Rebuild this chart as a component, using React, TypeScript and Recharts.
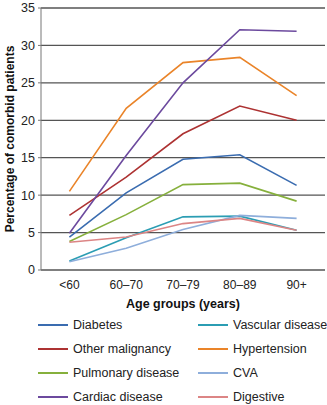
import React from 'react';
import { LineChart, Line, XAxis, YAxis, CartesianGrid } from 'recharts';

const categories = ['<60', '60–70', '70–79', '80–89', '90+'];
const diabetes = [4.4, 10.3, 14.8, 15.4, 11.3];
const vascular = [1.2, 4.3, 7.1, 7.2, 5.3];
const otherMalignancy = [7.3, 12.4, 18.2, 21.9, 20.0];
const hypertension = [10.5, 21.6, 27.7, 28.4, 23.3];
const pulmonary = [3.8, 7.4, 11.4, 11.6, 9.2];
const cva = [1.1, 2.9, 5.4, 7.3, 6.9];
const cardiac = [4.9, 15.3, 25.0, 32.1, 31.9];
const digestive = [3.7, 4.4, 6.2, 6.9, 5.3];
const yTicks = [0, 5, 10, 15, 20, 25, 30, 35];

const series = [
  { key: 'diabetes', name: 'Diabetes', values: diabetes, color: '#3a6cb0' },
  { key: 'vascular', name: 'Vascular disease', values: vascular, color: '#2b9db3' },
  { key: 'other', name: 'Other malignancy', values: otherMalignancy, color: '#ad3232' },
  { key: 'hyper', name: 'Hypertension', values: hypertension, color: '#ea8429' },
  { key: 'pulm', name: 'Pulmonary disease', values: pulmonary, color: '#86b03c' },
  { key: 'cva', name: 'CVA', values: cva, color: '#8eaedb' },
  { key: 'cardiac', name: 'Cardiac disease', values: cardiac, color: '#6c4a9e' },
  { key: 'dig', name: 'Digestive', values: digestive, color: '#dc8585' },
];

const data = categories.map((c, i) => {
  const row: any = { x: i + 0.5, cat: c };
  series.forEach((s) => (row[s.key] = s.values[i]));
  return row;
});

const font = 'Liberation Sans, Arial, Helvetica, sans-serif';

const LegendBlock = () => (
  <div
    style={{
      position: 'absolute',
      left: 38,
      top: 313,
      display: 'grid',
      gridTemplateColumns: '160px 129px',
      fontFamily: font,
      fontSize: 12.5,
      color: '#222',
    }}
  >
    {series.map((s) => (
      <div key={s.key} style={{ display: 'flex', alignItems: 'center', height: 24, whiteSpace: 'nowrap' }}>
        <div style={{ width: 30, height: 2, background: s.color, marginRight: 5, flexShrink: 0 }} />
        <span>{s.name}</span>
      </div>
    ))}
  </div>
);

export default function App() {
  return (
    <div style={{ position: 'absolute', left: 0, top: 0, width: 327, height: 405, background: '#fff' }}>
      <LineChart
        width={327}
        height={405}
        data={data}
        margin={{ top: 8, right: 2, bottom: 97, left: 0 }}
      >
        <CartesianGrid horizontal vertical={false} stroke="#555" strokeWidth={1.3} />
        <XAxis
          xAxisId="ticks"
          dataKey="x"
          type="number"
          domain={[0, 5]}
          ticks={[0, 1, 2, 3, 4, 5]}
          height={0}
          tick={false}
          tickSize={5}
          tickLine={{ stroke: '#777' }}
          axisLine={{ stroke: '#888' }}
        />
        <XAxis
          xAxisId="main"
          dataKey="x"
          type="number"
          domain={[0, 5]}
          ticks={[0.5, 1.5, 2.5, 3.5, 4.5]}
          tickFormatter={(v: number) => categories[Math.round(v - 0.5)]}
          axisLine={false}
          tickLine={false}
          tickMargin={4}
          height={38}
          tick={{ fontFamily: font, fontSize: 12, fill: '#222' }}
          label={{
            value: 'Age groups (years)',
            position: 'insideBottom',
            offset: 0,
            style: { fontFamily: font, fontSize: 12.5, fontWeight: 'bold', fill: '#111' },
          }}
        />
        <YAxis
          domain={[0, 35]}
          ticks={yTicks}
          width={41}
          tickSize={3}
          tickMargin={3}
          axisLine={{ stroke: '#777' }}
          tickLine={{ stroke: '#777' }}
          tick={{ fontFamily: font, fontSize: 12.5, fill: '#222' }}
          label={{
            value: 'Percentage of comorbid patients',
            angle: -90,
            position: 'insideLeft',
            offset: 10,
            style: { textAnchor: 'middle', fontFamily: font, fontSize: 12, fontWeight: 'bold', fill: '#111' },
          }}
        />
        {series.map((s) => (
          <Line
            key={s.key}
            xAxisId="main"
            dataKey={s.key}
            name={s.name}
            stroke={s.color}
            strokeWidth={1.6}
            dot={false}
            isAnimationActive={false}
          />
        ))}
      </LineChart>
      <LegendBlock />
    </div>
  );
}
